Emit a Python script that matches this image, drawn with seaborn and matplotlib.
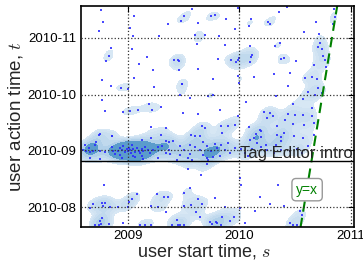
import matplotlib
matplotlib.use("Agg")
import matplotlib.pyplot as plt
from matplotlib.colors import LinearSegmentedColormap
import numpy as np
import pandas as pd
import seaborn as sns

# user start time s (decimal year) / user action time t (days since 2010-01-01)
# upper region (October / November)
top_start = [2008.76, 2008.78, 2008.74, 2009.06, 2009.02, 2009.05, 2009.36, 2009.28, 2008.85, 2009.04,
             2008.83, 2008.81, 2009.10, 2009.17, 2009.23, 2008.77, 2009.06, 2008.85, 2009.00, 2009.24,
             2009.58, 2009.99, 2009.51, 2009.48, 2009.63, 2009.78, 2009.75, 2009.88, 2010.11, 2010.09,
             2009.96, 2009.60, 2009.69, 2009.82, 2009.62, 2009.87, 2010.10, 2009.42, 2009.45, 2009.46,
             2009.46, 2009.81, 2009.93, 2009.97, 2010.00, 2009.99, 2010.10, 2010.11, 2010.12, 2009.63,
             2009.77, 2009.99, 2010.13, 2010.00, 2009.49, 2010.43, 2010.36, 2010.26, 2010.28, 2010.69,
             2010.58, 2010.72, 2010.85, 2010.86, 2010.84, 2010.32, 2010.37, 2010.38, 2010.40, 2010.51,
             2010.31, 2010.46, 2010.67, 2010.73, 2010.71, 2010.74, 2010.75, 2010.77, 2010.78, 2010.59,
             2010.65, 2010.70, 2008.94]
top_action = [319.0, 312.7, 307.6, 315.8, 309.5, 305.0, 311.3, 304.8, 298.6, 298.1,
              294.1, 291.5, 289.9, 293.6, 286.5, 281.2, 282.2, 277.7, 276.4, 277.2,
              319.7, 320.0, 315.8, 312.9, 311.8, 316.3, 315.8, 314.1, 314.1, 310.5,
              308.7, 305.5, 305.3, 305.1, 300.7, 300.0, 299.7, 291.9, 291.7, 291.5,
              286.5, 292.6, 291.9, 291.0, 292.8, 291.9, 291.0, 293.7, 294.6, 286.9,
              281.4, 283.2, 282.8, 279.6, 279.0, 320.7, 318.1, 312.4, 311.6, 312.7,
              306.9, 306.0, 319.6, 315.4, 311.4, 299.5, 301.0, 292.4, 292.8, 291.5,
              284.5, 284.7, 289.2, 301.0, 299.1, 297.7, 294.2, 292.1, 288.3, 282.0,
              282.7, 281.6, 276.5]

# middle region (September)
mid_start = [2008.77, 2008.80, 2008.96, 2009.02, 2009.09, 2009.19, 2009.30, 2009.22, 2009.21, 2008.86,
             2008.75, 2009.13, 2009.21, 2009.30, 2009.34, 2009.37, 2009.49, 2009.47, 2009.56, 2009.72,
             2009.77, 2010.06, 2009.83, 2009.50, 2009.63, 2009.67, 2009.69, 2009.84, 2009.90, 2009.85,
             2009.96, 2009.99, 2010.09, 2010.15, 2010.19, 2009.57, 2009.65, 2009.60, 2010.44, 2010.62,
             2010.71, 2010.68, 2010.74, 2010.33, 2010.57, 2010.48, 2010.65, 2010.22, 2010.28, 2010.30,
             2010.44, 2010.50, 2010.57, 2010.65, 2010.25, 2010.41, 2010.48, 2010.34, 2010.58, 2010.67,
             2010.20, 2010.34, 2010.38, 2010.40, 2010.49, 2010.57, 2010.67, 2010.20, 2010.24, 2010.33,
             2010.38, 2010.62]
mid_action = [270.0, 264.0, 263.7, 264.2, 264.5, 267.9, 266.5, 264.7, 255.7, 250.8,
              251.9, 248.7, 249.4, 251.2, 255.0, 247.2, 278.7, 273.1, 271.4, 272.5,
              272.7, 269.0, 264.6, 263.1, 262.8, 255.9, 255.0, 255.9, 256.2, 252.3,
              256.8, 261.4, 255.4, 251.9, 254.1, 251.4, 250.8, 250.5, 277.6, 274.4,
              276.7, 273.1, 274.0, 272.2, 270.7, 268.0, 265.7, 263.5, 263.1, 261.7,
              262.8, 261.9, 262.2, 261.4, 260.4, 259.5, 257.2, 255.9, 256.5, 257.7,
              253.2, 251.0, 250.1, 252.3, 250.5, 249.6, 251.4, 250.0, 246.0, 246.0,
              247.8, 245.4]

# dense band just before the Tag Editor introduction
band_start = [2008.62, 2008.72, 2008.74, 2008.86, 2008.63, 2008.66, 2008.71, 2008.75, 2008.80, 2008.86,
              2008.87, 2008.91, 2008.98, 2009.02, 2009.07, 2009.10, 2009.14, 2009.16, 2009.20, 2009.23,
              2009.27, 2009.31, 2009.34, 2009.37, 2009.38, 2009.34, 2008.93, 2009.05, 2009.13, 2009.01,
              2008.96, 2009.41, 2009.47, 2009.51, 2009.56, 2009.60, 2009.65, 2009.71, 2009.75, 2009.80,
              2009.84, 2009.87, 2009.92, 2009.96, 2009.47, 2009.56, 2009.68, 2009.83, 2010.10, 2010.13,
              2010.16, 2010.25, 2010.31, 2010.38, 2010.46, 2010.52, 2010.56, 2008.66, 2008.75, 2008.95,
              2009.07, 2009.14, 2009.27, 2009.44, 2009.54, 2009.58, 2009.71, 2009.72, 2009.77, 2008.99,
              2009.03, 2009.05, 2009.08, 2008.95, 2009.11, 2009.00, 2008.93, 2009.04, 2009.13, 2008.89,
              2009.18, 2008.65, 2008.69, 2008.60, 2009.78, 2009.90, 2009.68, 2010.02, 2010.05, 2010.20,
              2010.08, 2010.12]
band_action = [245.8, 247.6, 251.2, 250.6, 242.4, 241.8, 246.0, 242.4, 242.0, 244.5,
               242.4, 242.7, 242.0, 243.2, 242.0, 242.7, 242.4, 244.5, 241.4, 243.2,
               244.7, 245.4, 247.8, 243.2, 240.9, 241.4, 240.5, 240.0, 240.0, 244.2,
               245.1, 247.8, 245.1, 243.2, 245.9, 244.7, 243.2, 245.1, 242.4, 244.2,
               245.9, 243.2, 241.4, 244.2, 240.5, 240.9, 240.5, 240.0, 248.6, 249.6,
               246.9, 243.2, 241.4, 243.2, 242.4, 243.6, 241.4, 238.6, 238.2, 238.9,
               239.4, 238.2, 238.6, 237.7, 238.6, 237.7, 238.9, 237.7, 239.4, 243.5,
               241.5, 243.8, 244.0, 243.0, 241.2, 242.6, 244.0, 245.5, 243.6, 241.0,
               242.9, 244.0, 242.5, 243.0, 246.5, 247.0, 247.5, 243.5, 241.5, 244.5,
               239.5, 243.8]

# lower region (August)
low_start = [2009.54, 2009.71, 2009.66, 2009.56, 2008.79, 2009.08, 2009.26, 2009.33, 2009.36, 2009.51,
             2009.63, 2009.78, 2008.69, 2008.77, 2008.80, 2008.78, 2008.66, 2008.84, 2008.91, 2009.01,
             2009.04, 2009.00, 2009.21, 2009.27, 2009.34, 2009.51, 2009.57, 2009.67, 2009.61, 2009.65,
             2009.74, 2009.76, 2009.79, 2008.77, 2008.75, 2008.74, 2008.76, 2008.71, 2008.83, 2008.96,
             2009.11, 2009.16, 2009.21, 2009.40, 2009.44, 2009.45, 2009.47, 2009.51, 2010.01, 2010.02,
             2010.35, 2010.19, 2009.87, 2010.01, 2010.14, 2010.40, 2010.28, 2010.55, 2010.56, 2009.85,
             2009.95, 2009.92, 2009.80, 2009.84, 2010.05, 2010.46, 2010.48, 2010.52]
low_action = [232.6, 235.3, 229.5, 222.3, 224.1, 219.0, 219.4, 217.7, 217.7, 219.6,
              216.5, 217.2, 213.8, 214.5, 214.5, 212.7, 211.8, 212.3, 212.3, 215.0,
              216.3, 212.3, 212.8, 212.3, 209.6, 212.8, 213.2, 213.6, 209.6, 206.6,
              204.2, 202.8, 204.2, 206.0, 204.7, 202.4, 202.8, 202.4, 202.8, 203.6,
              202.4, 202.4, 202.4, 202.4, 205.1, 202.4, 202.4, 202.4, 227.7, 224.1,
              224.1, 217.7, 212.3, 211.8, 210.0, 212.8, 213.6, 210.0, 207.8, 206.4,
              206.9, 204.5, 203.3, 202.4, 203.3, 203.3, 202.4, 202.4]

year_ticks = [2009, 2010, 2011]
month_ticks = [212, 243, 273, 304]
month_labels = ["2010-08", "2010-09", "2010-10", "2010-11"]
tag_editor_day = 237.2

df = pd.DataFrame({
    "start": top_start + mid_start + band_start + low_start,
    "action": top_action + mid_action + band_action + low_action,
})

sns.set_style("white")
plt.rcParams["font.family"] = ["Liberation Sans", "DejaVu Sans"]
plt.rcParams["mathtext.fontset"] = "cm"

fig = plt.figure(figsize=(3.63, 2.60), dpi=100)
ax = fig.add_axes([0.222, 0.126, 0.753, 0.851])

kde_cmap = LinearSegmentedColormap.from_list("kde_blues", ["#d9e8f5", "#a9cbe6", "#5a9bcc", "#2f78b5"])
sns.kdeplot(data=df, x="start", y="action", fill=True, cmap=kde_cmap,
            levels=7, thresh=0.42, bw_adjust=0.27, ax=ax)
sns.scatterplot(data=df, x="start", y="action", color="#2a2aff", s=2.2,
                marker="s", linewidth=0, alpha=0.85, ax=ax)

# y = x diagonal
diag = np.array([2010.5, 2011.1])
ax.plot(diag, (diag - 2010) * 365, linestyle="--", color="green", linewidth=1.5, dashes=(5, 3))
ax.text(2010.61, 221.5, "y=x", color="green", ha="center", va="center", fontsize=10,
        bbox=dict(boxstyle="round,pad=0.3", fc="white", ec="0.6"))

ax.axhline(tag_editor_day, color="black", linewidth=1.0)
ax.text(2010.005, 238.6, "Tag Editor intro", fontsize=12, va="baseline", ha="left")

ax.set_xlim(2008.578, 2011.03)
ax.set_ylim(201.1, 321.2)
ax.set_xticks(year_ticks)
ax.set_xticklabels([str(y) for y in year_ticks])
ax.set_yticks(month_ticks)
ax.set_yticklabels(month_labels)
ax.tick_params(direction="in", top=True, right=True, length=4, pad=3, labelsize=9.5, colors="black")
ax.tick_params(axis="x", pad=2)
ax.grid(True, linestyle=":", color="0.2", linewidth=0.9)
ax.set_axisbelow(False)
for sp in ax.spines.values():
    sp.set_color("black")
    sp.set_linewidth(1.2)

ax.set_xlabel("user start time, $s$", fontsize=13)
ax.xaxis.set_label_coords(0.452, -0.066)
ax.set_ylabel("user action time, $t$", fontsize=13.5, labelpad=2)

fig.savefig("out.png", dpi=100)
